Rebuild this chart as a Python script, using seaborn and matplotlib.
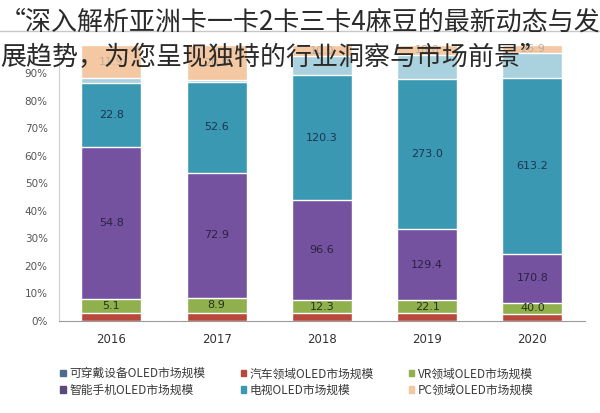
import numpy as np
import pandas as pd
import matplotlib
matplotlib.use("Agg")
import matplotlib.pyplot as plt
import seaborn as sns
from matplotlib.patches import Patch
from matplotlib.lines import Line2D

# dados (valores absolutos, mostrados em % empilhado)
anos = ["2016", "2017", "2018", "2019", "2020"]
vestiveis = [1.8, 1.5, 19.0, 42.0, 85.0]
automovel = [2.9, 4.6, 7.5, 15.0, 24.0]
vr = [5.1, 8.9, 12.3, 22.1, 40.0]
smartphone = [54.8, 72.9, 96.6, 129.4, 170.8]
televisao = [22.8, 52.6, 120.3, 273.0, 613.2]
pc = [11.9, 20.0, 10.0, 18.0, 26.9]

nomes = {
    "vestiveis": "可穿戴设备OLED市场规模",
    "automovel": "汽车领域OLED市场规模",
    "vr": "VR领域OLED市场规模",
    "smartphone": "智能手机OLED市场规模",
    "televisao": "电视OLED市场规模",
    "pc": "PC领域OLED市场规模",
}
cores = {
    "automovel": "#b9483c",
    "vr": "#8fb04c",
    "smartphone": "#7452a0",
    "televisao": "#3a98b3",
    "vestiveis": "#a9d2de",
    "pc": "#f3c8a2",
}
cor_rotulo = {
    "vr": "#26331a",
    "smartphone": "#2c2140",
    "televisao": "#1c3450",
    "pc": "#bfae9e",
}

# ordem de empilhamento (de baixo para cima)
ordem = ["automovel", "vr", "smartphone", "televisao", "vestiveis", "pc"]

df = pd.DataFrame({
    "ANO": anos,
    "automovel": automovel,
    "vr": vr,
    "smartphone": smartphone,
    "televisao": televisao,
    "vestiveis": vestiveis,
    "pc": pc,
})
total = df[ordem].sum(axis=1)
pct = df[ordem].div(total, axis=0)
acumulado = pct.cumsum(axis=1)

sns.set_style("white")
plt.rcParams["font.family"] = ["Noto Sans CJK SC", "DejaVu Sans"]

fig = plt.figure(figsize=(6, 4.13), dpi=100)
ax = fig.add_axes([0.098, 0.223, 0.877, 0.667])

# barras empilhadas: desenhar da maior soma acumulada para a menor
for serie in reversed(ordem):
    sns.barplot(x=df["ANO"], y=acumulado[serie], color=cores[serie],
                width=0.57, saturation=1, ax=ax, order=anos)

# rótulos com os valores absolutos
for serie in ["vr", "smartphone", "televisao", "pc"]:
    base = acumulado[serie] - pct[serie]
    for i, ano in enumerate(anos):
        y = base[i] + pct[serie][i] / 2
        ax.text(i, y, f"{df[serie][i]:.1f}", ha="center", va="center",
                fontsize=8, color=cor_rotulo[serie], family="DejaVu Sans")

ax.set_xlim(-0.5, 4.5)
ax.set_ylim(0, 1)
ticks = np.arange(0, 0.91, 0.1)
ax.set_yticks(ticks)
ax.set_yticklabels([f"{int(round(t * 100))}%" for t in ticks],
                   fontsize=7.5, color="#555555", family="DejaVu Sans")
ax.set_xticks(range(len(anos)))
ax.set_xticklabels(anos, fontsize=8.5, color="#333333", family="DejaVu Sans")
ax.tick_params(axis="x", length=0, pad=9)
ax.tick_params(axis="y", length=0, pad=8)
ax.set_xlabel("")
ax.set_ylabel("")
sns.despine(ax=ax)
ax.spines["left"].set_color("#cfcfcf")
ax.spines["bottom"].set_color("#9a9a9a")

# legenda em 3 colunas (preenche por coluna)
leg_ordem = ["vestiveis", "smartphone", "automovel", "televisao", "vr", "pc"]
leg_cores = dict(cores)
leg_cores["vestiveis"] = "#4f6a8a"
leg_cores["smartphone"] = "#5a4a78"
handles = [Patch(color=leg_cores[s], label=nomes[s]) for s in leg_ordem]
fig.legend(handles=handles, loc="center", bbox_to_anchor=(0.495, 0.075), ncol=3,
           frameon=False, fontsize=8.5, handlelength=0.45, handleheight=0.45,
           handletextpad=0.3, columnspacing=3.0, labelspacing=0.3,
           labelcolor="#3a3a3a")

# linha cinzenta do cabeçalho original
fig.add_artist(Line2D([0.0, 1.0], [1 - 31 / 413, 1 - 31 / 413],
                      color="#c8c8c8", lw=1.0, transform=fig.transFigure))

# texto sobreposto no topo
fig.text(0.0, 1 - 22 / 413, "“深入解析亚洲卡一卡2卡三卡4麻豆的最新动态与发",
         fontsize=18.7, color="#2a2a2a", va="center", ha="left",
         fontweight="light")
fig.text(0.0, 1 - 58 / 413, "展趋势，为您呈现独特的行业洞察与市场前景”",
         fontsize=18.7, color="#2a2a2a", va="center", ha="left",
         fontweight="light")

fig.savefig("out.png", dpi=100)
